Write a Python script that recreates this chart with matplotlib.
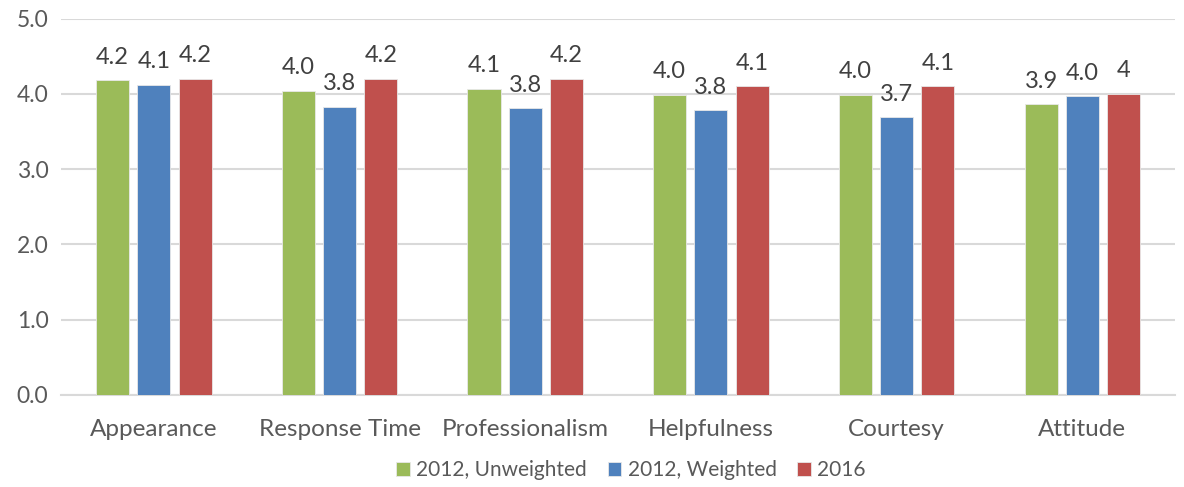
import numpy as np
import matplotlib
matplotlib.use('Agg')
import matplotlib.pyplot as plt

plt.rcParams['font.family'] = ['Lato', 'DejaVu Sans']

# 데이터
categories = ['Appearance', 'Response Time', 'Professionalism', 'Helpfulness', 'Courtesy', 'Attitude']
series_names = ['2012, Unweighted', '2012, Weighted', '2016']
unweighted_2012 = [4.18, 4.04, 4.07, 3.99, 3.99, 3.86]
weighted_2012 = [4.12, 3.83, 3.81, 3.78, 3.69, 3.97]
values_2016 = [4.20, 4.20, 4.20, 4.10, 4.10, 4.00]
labels_unweighted = ['4.2', '4.0', '4.1', '4.0', '4.0', '3.9']
labels_weighted = ['4.1', '3.8', '3.8', '3.8', '3.7', '4.0']
labels_2016 = ['4.2', '4.2', '4.2', '4.1', '4.1', '4']
colors = ['#9BBB59', '#4F81BD', '#C0504D']

fig = plt.figure(figsize=(11.84, 4.87), dpi=100)
ax = fig.add_axes([0.0515, 0.189, 0.941, 0.773])

x = np.arange(len(categories))
width = 0.178
step = 0.222

all_vals = [unweighted_2012, weighted_2012, values_2016]
all_labels = [labels_unweighted, labels_weighted, labels_2016]
for i, (vals, labs) in enumerate(zip(all_vals, all_labels)):
    pos = x + (i - 1) * step
    bars = ax.bar(pos, vals, width, color=colors[i], label=series_names[i],
                  edgecolor='#e8e8e8', linewidth=0.6, zorder=3)
    for b, lab in zip(bars, labs):
        ax.annotate(lab, (b.get_x() + b.get_width() / 2, b.get_height()),
                    xytext=(0, 9), textcoords='offset points',
                    ha='center', va='bottom', fontsize=17, color='#404040')

ax.set_xlim(-0.5, len(categories) - 0.5)
ax.set_ylim(0, 5)
ax.set_yticks(np.arange(0, 5.1, 1.0))
ax.set_yticklabels(['%.1f' % v for v in np.arange(0, 5.1, 1.0)])
ax.set_xticks(x)
ax.set_xticklabels(categories)
ax.tick_params(axis='y', length=0, labelsize=16.5, labelcolor='#595959', pad=9)
ax.tick_params(axis='x', length=0, labelsize=17.5, labelcolor='#595959', pad=17)
ax.yaxis.grid(True, color='#d9d9d9', linewidth=1.5, zorder=0)
for s in ['top', 'right', 'left']:
    ax.spines[s].set_visible(False)
ax.spines['bottom'].set_color('#d9d9d9')
ax.spines['bottom'].set_linewidth(1.5)

fig.legend(loc='lower center', bbox_to_anchor=(0.533, -0.025), ncol=3, frameon=False,
           fontsize=15, labelcolor='#595959', handlelength=0.65, handleheight=0.65,
           handletextpad=0.3, columnspacing=1.0)

fig.savefig('out.png', dpi=100)
